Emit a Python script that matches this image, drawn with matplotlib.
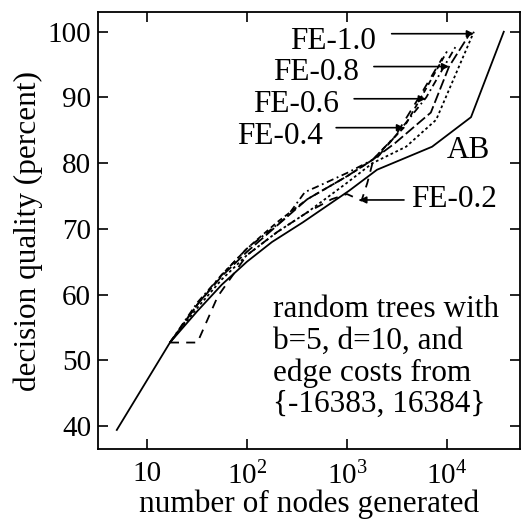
import matplotlib
matplotlib.use("Agg")
import matplotlib.pyplot as plt
from matplotlib.ticker import FixedLocator, FixedFormatter, NullLocator

plt.rcParams['font.family'] = ['Liberation Serif', 'DejaVu Serif']
plt.rcParams['mathtext.fontset'] = 'custom'
plt.rcParams['mathtext.rm'] = 'Liberation Serif'
plt.rcParams['mathtext.it'] = 'Liberation Serif:italic'

# ---- data ----
ab_x = [5, 17, 32, 56, 100, 178, 363, 1050, 2000, 7100, 17400, 37000]
ab_y = [39.4, 52.7, 57.5, 61.5, 65, 68, 71, 75.8, 79, 82.5, 87, 100]

fe10_x = [17, 32, 56, 100, 200, 400, 1000, 1800, 3900, 7800, 18600]
fe10_y = [52.7, 58, 62.3, 66, 69.5, 72.5, 77, 80, 82.5, 86.6, 100]

fe08_x = [17, 32, 56, 100, 200, 400, 1000, 1800, 3000, 6900, 10500, 16600]
fe08_y = [52.7, 58.5, 62.8, 66.5, 70.5, 74.5, 78, 80.5, 83, 87.7, 94.7, 99.5]

fe06_x = [17, 32, 56, 100, 250, 380, 500, 1000, 1800, 3000, 6200, 12500]
fe06_y = [52.7, 58.8, 63, 67, 71.8, 75.6, 76.4, 78.5, 80.5, 84, 90, 98]

fe04_x = [17, 32, 56, 100, 200, 400, 1000, 1800, 3700, 6000, 10000]
fe04_y = [52.7, 58.5, 63, 67, 71, 74.5, 78, 80.5, 85.4, 91, 97]

fe02_x = [17, 32, 51, 100, 200, 400, 700, 1000, 1400, 1600, 1800, 3000, 5500, 9000]
fe02_y = [52.7, 52.7, 59.7, 66, 69.5, 72.5, 74.5, 75.3, 74.3, 77, 80, 84, 90.5, 96]

x_ticks = [10, 100, 1000, 10000]
x_tick_labels = ['10', '$10^2$', '$10^3$', '$10^4$']
y_ticks = [40, 50, 60, 70, 80, 90, 100]
y_tick_labels = ['40', '50', '60', '70', '80', '90', '100']

fig = plt.figure(figsize=(5.21, 5.23), dpi=100)
ax = fig.add_axes([0.188, 0.1415, 0.81, 0.8355])

lw = 1.3
ax.plot(ab_x, ab_y, color='black', lw=lw, ls='-')
ax.plot(fe10_x, fe10_y, color='black', lw=lw, ls=(0, (1.5, 1.5)))
ax.plot(fe08_x, fe08_y, color='black', lw=lw, ls=(0, (6, 2)))
ax.plot(fe06_x, fe06_y, color='black', lw=lw, ls=(0, (4, 2, 1, 2)))
ax.plot(fe04_x, fe04_y, color='black', lw=lw, ls=(0, (3, 2)))
ax.plot(fe02_x, fe02_y, color='black', lw=lw, ls=(0, (5, 4)))

ax.set_xscale('log')
ax.set_xlim(3.24, 53700)
ax.set_ylim(36.5, 103)

ax.xaxis.set_major_locator(FixedLocator(x_ticks))
ax.xaxis.set_major_formatter(FixedFormatter(x_tick_labels))
ax.xaxis.set_minor_locator(NullLocator())
ax.yaxis.set_major_locator(FixedLocator(y_ticks))
ax.yaxis.set_major_formatter(FixedFormatter(y_tick_labels))

fs = 22.5
tfs = 21
ax.tick_params(direction='in', length=7, width=1.2, top=True, right=True,
               labelsize=tfs)
ax.tick_params(axis='x', pad=9)
ax.tick_params(axis='y', pad=5)
for s in ax.spines.values():
    s.set_linewidth(1.3)

ax.set_xlabel('number of nodes generated', fontsize=fs, labelpad=0)
ax.set_ylabel('decision quality (percent)', fontsize=fs, labelpad=3)

arrow = dict(arrowstyle='-|>', color='black', lw=1.2, mutation_scale=10,
             shrinkA=0, shrinkB=0)

# FE labels with arrows
ax.text(270, 98.5, 'FE-1.0', fontsize=fs, ha='left', va='center')
ax.annotate('', xy=(18600, 99.7), xytext=(2800, 99.7), arrowprops=arrow)

ax.text(182, 93.8, 'FE-0.8', fontsize=fs, ha='left', va='center')
ax.annotate('', xy=(10500, 94.7), xytext=(1860, 94.7), arrowprops=arrow)

ax.text(115, 88.9, 'FE-0.6', fontsize=fs, ha='left', va='center')
ax.annotate('', xy=(6150, 89.8), xytext=(1180, 89.8), arrowprops=arrow)

ax.text(79, 84.0, 'FE-0.4', fontsize=fs, ha='left', va='center')
ax.annotate('', xy=(3720, 85.4), xytext=(780, 85.4), arrowprops=arrow)

ax.text(4370, 74.4, 'FE-0.2', fontsize=fs, ha='left', va='center')
ax.annotate('', xy=(1330, 74.4), xytext=(3720, 74.4), arrowprops=arrow)

ax.text(10000, 82.0, 'AB', fontsize=fs, ha='left', va='center')

ax.text(182, 50.5, 'random trees with\nb=5, d=10, and\nedge costs from\n{-16383, 16384}',
        fontsize=fs, ha='left', va='center', linespacing=1.12)

fig.savefig('out.png', dpi=100)
